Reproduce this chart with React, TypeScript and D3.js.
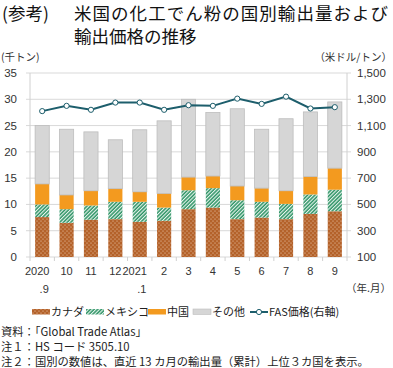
import React, { useEffect, useRef } from "react";
import * as d3 from "d3";

// 月ラベル（上段・下段）
const monthTop = ["2020", "10", "11", "12", "2021", "2", "3", "4", "5", "6", "7", "8", "9"];
const monthSub = [".9", "", "", "", ".1", "", "", "", "", "", "", "", ""];

// 輸出量（千トン）
const canada = [7.6, 6.5, 7.1, 7.2, 6.7, 6.9, 9.1, 9.4, 7.2, 7.5, 7.2, 8.2, 8.7];
const mexico = [2.4, 2.6, 2.7, 3.3, 3.8, 2.5, 3.6, 3.7, 3.6, 3.0, 2.9, 3.7, 4.1];
const china = [3.9, 2.7, 2.8, 2.5, 1.9, 2.7, 2.5, 2.3, 2.7, 2.6, 2.5, 3.4, 4.1];
const others = [11.1, 12.5, 11.2, 9.3, 11.8, 13.8, 14.8, 12.1, 14.7, 11.2, 13.7, 12.3, 12.6];

// FAS価格（米ドル/トン）
const fasPrice = [1210, 1250, 1220, 1275, 1275, 1220, 1255, 1250, 1305, 1265, 1320, 1230, 1240];

const leftTicks = [0, 5, 10, 15, 20, 25, 30, 35];
const rightTicks = [100, 300, 500, 700, 900, 1100, 1300, 1500];

const seriesNames = ["カナダ", "メキシコ", "中国", "その他"];

const FONT = "'Liberation Sans', 'Noto Sans CJK JP', sans-serif";
const JP = "'Noto Sans CJK JP', sans-serif";

const App = () => {
  const svgRef = useRef<SVGSVGElement>(null);

  useEffect(() => {
    const width = 393;
    const height = 368;
    const margin = { top: 73, right: 46, bottom: 111, left: 30 };
    const svg = d3.select(svgRef.current);
    svg.selectAll("*").remove();
    svg.attr("width", width).attr("height", height);

    const defs = svg.append("defs");
    // カナダ: 茶色に白い点
    const dots = defs
      .append("pattern")
      .attr("id", "pat-canada")
      .attr("patternUnits", "userSpaceOnUse")
      .attr("width", 4)
      .attr("height", 4);
    dots.append("rect").attr("width", 4).attr("height", 4).attr("fill", "#b4622a");
    dots.append("circle").attr("cx", 1).attr("cy", 1).attr("r", 0.55).attr("fill", "#f3d9c2");
    dots.append("circle").attr("cx", 3).attr("cy", 3).attr("r", 0.55).attr("fill", "#f3d9c2");

    // メキシコ: 緑の斜線
    const hatch = defs
      .append("pattern")
      .attr("id", "pat-mexico")
      .attr("patternUnits", "userSpaceOnUse")
      .attr("width", 2.6)
      .attr("height", 2.6)
      .attr("patternTransform", "rotate(45)");
    hatch.append("rect").attr("width", 2.6).attr("height", 2.6).attr("fill", "#2f9466");
    hatch.append("rect").attr("width", 1.1).attr("height", 2.6).attr("fill", "#e8f4ee");

    const fills = ["url(#pat-canada)", "url(#pat-mexico)", "#f39a1f", "#d6d6d6"];

    const x = d3
      .scaleBand()
      .domain(monthTop.map((_, i) => String(i)))
      .range([margin.left, width - margin.right])
      .paddingInner(0.42)
      .paddingOuter(0.21);

    const yL = d3.scaleLinear().domain([0, 35]).range([height - margin.bottom, margin.top]);
    const yR = d3.scaleLinear().domain([100, 1500]).range([height - margin.bottom, margin.top]);

    // グリッド
    svg
      .append("g")
      .selectAll("line")
      .data(leftTicks)
      .enter()
      .append("line")
      .attr("x1", margin.left - 4)
      .attr("x2", width - margin.right + 4)
      .attr("y1", (d) => yL(d))
      .attr("y2", (d) => yL(d))
      .attr("stroke", "#d9d9d9")
      .attr("stroke-width", 1);

    // 左右の軸線
    [margin.left, width - margin.right].forEach((xx) => {
      svg
        .append("line")
        .attr("x1", xx)
        .attr("x2", xx)
        .attr("y1", margin.top)
        .attr("y2", height - margin.bottom)
        .attr("stroke", "#d0d0d0");
    });

    // 下軸の目盛
    d3.range(14).forEach((i) => {
      const xx = margin.left + i * ((width - margin.right - margin.left) / 13);
      svg
        .append("line")
        .attr("x1", xx)
        .attr("x2", xx)
        .attr("y1", height - margin.bottom)
        .attr("y2", height - margin.bottom + 4)
        .attr("stroke", "#d0d0d0");
    });

    // 積み上げ棒
    const rows = monthTop.map((_, i) => ({
      key: String(i),
      canada: canada[i],
      mexico: mexico[i],
      china: china[i],
      others: others[i],
    }));
    const stack = d3.stack<any>().keys(["canada", "mexico", "china", "others"]);
    const layers = stack(rows);

    layers.forEach((layer, li) => {
      svg
        .append("g")
        .selectAll("rect")
        .data(layer)
        .enter()
        .append("rect")
        .attr("x", (d: any) => x(d.data.key)!)
        .attr("width", x.bandwidth())
        .attr("y", (d) => yL(d[1]))
        .attr("height", (d) => yL(d[0]) - yL(d[1]))
        .attr("fill", fills[li])
        .attr("stroke", li === 3 ? "#bdbdbd" : "none")
        .attr("stroke-width", 0.8);
    });

    // FAS価格の線
    const line = d3
      .line<number>()
      .x((_, i) => x(String(i))! + x.bandwidth() / 2)
      .y((d) => yR(d));

    svg
      .append("path")
      .datum(fasPrice)
      .attr("fill", "none")
      .attr("stroke", "#1d5e6c")
      .attr("stroke-width", 2)
      .attr("d", line);

    svg
      .append("g")
      .selectAll("circle")
      .data(fasPrice)
      .enter()
      .append("circle")
      .attr("cx", (_, i) => x(String(i))! + x.bandwidth() / 2)
      .attr("cy", (d) => yR(d))
      .attr("r", 2.6)
      .attr("fill", "#fff")
      .attr("stroke", "#1d5e6c")
      .attr("stroke-width", 1);

    // 軸ラベル
    svg
      .append("g")
      .selectAll("text")
      .data(leftTicks)
      .enter()
      .append("text")
      .attr("x", 17)
      .attr("y", (d) => yL(d) + 4)
      .attr("text-anchor", "end")
      .attr("font-family", FONT)
      .attr("font-size", 11.5)
      .attr("fill", "#333")
      .text((d) => d);

    svg
      .append("g")
      .selectAll("text")
      .data(rightTicks)
      .enter()
      .append("text")
      .attr("x", 357)
      .attr("y", (d) => yR(d) + 4)
      .attr("font-family", FONT)
      .attr("font-size", 11.5)
      .attr("fill", "#333")
      .text((d) => d3.format(",")(d));

    const labelG = svg.append("g").attr("font-family", FONT).attr("font-size", 11).attr("fill", "#333");
    monthTop.forEach((m, i) => {
      const cx = x(String(i))! + x.bandwidth() / 2;
      const hasSub = monthSub[i] !== "";
      labelG
        .append("text")
        .attr("x", hasSub ? cx - 5 : cx)
        .attr("y", 275)
        .attr("text-anchor", "middle")
        .text(m);
      if (hasSub) {
        labelG
          .append("text")
          .attr("x", cx + 2)
          .attr("y", 293)
          .attr("text-anchor", "middle")
          .text(monthSub[i]);
      }
    });

    svg
      .append("text")
      .attr("x", 391)
      .attr("y", 292)
      .attr("text-anchor", "end")
      .attr("font-family", JP)
      .attr("font-size", 10.5)
      .attr("fill", "#333")
      .text("（年.月）");

    // 単位
    svg
      .append("text")
      .attr("x", 1)
      .attr("y", 61)
      .attr("font-family", JP)
      .attr("font-size", 10.5)
      .attr("fill", "#333")
      .text("(千トン)");
    svg
      .append("text")
      .attr("x", 392)
      .attr("y", 61)
      .attr("text-anchor", "end")
      .attr("font-family", JP)
      .attr("font-size", 10.5)
      .attr("fill", "#333")
      .text("（米ドル/トン）");

    // 凡例
    const legend = svg.append("g").attr("font-family", JP).attr("font-size", 11).attr("fill", "#222");
    const legendX = [32, 86, 148, 193];
    seriesNames.forEach((name, i) => {
      legend
        .append("rect")
        .attr("x", legendX[i])
        .attr("y", 309)
        .attr("width", 18)
        .attr("height", 5.5)
        .attr("fill", fills[i])
        .attr("stroke", i === 3 ? "#bdbdbd" : "none")
        .attr("stroke-width", 0.6);
      legend
        .append("text")
        .attr("x", legendX[i] + 19)
        .attr("y", 316)
        .text(name);
    });
    legend
      .append("line")
      .attr("x1", 250)
      .attr("x2", 268)
      .attr("y1", 312)
      .attr("y2", 312)
      .attr("stroke", "#1d5e6c")
      .attr("stroke-width", 2);
    legend
      .append("circle")
      .attr("cx", 259)
      .attr("cy", 312)
      .attr("r", 2.6)
      .attr("fill", "#fff")
      .attr("stroke", "#1d5e6c");
    legend.append("text").attr("x", 269).attr("y", 316).text("FAS価格(右軸)");

    // タイトル
    const title = svg.append("g").attr("font-family", JP).attr("font-size", 17.5).attr("font-weight", 400).attr("fill", "#111");
    title.append("text").attr("x", 2).attr("y", 20).text("(参考)");
    title.append("text").attr("x", 74).attr("y", 20).attr("textLength", 314).text("米国の化工でん粉の国別輸出量および");
    title.append("text").attr("x", 74).attr("y", 43).text("輸出価格の推移");

    // 注記
    const notes = svg.append("g").attr("font-family", JP).attr("font-size", 11.3).attr("fill", "#222");
    notes.append("text").attr("x", 1).attr("y", 336).text("資料：「Global Trade Atlas」");
    notes.append("text").attr("x", 1).attr("y", 351).text("注１：HS コード 3505.10");
    notes.append("text").attr("x", 1).attr("y", 366).text("注２：国別の数値は、直近 13 カ月の輸出量（累計）上位３カ国を表示。");
  }, []);

  return (
    <div>
      <svg ref={svgRef} style={{ position: "absolute", left: 0, top: 0 }}></svg>
    </div>
  );
};

export default App;
